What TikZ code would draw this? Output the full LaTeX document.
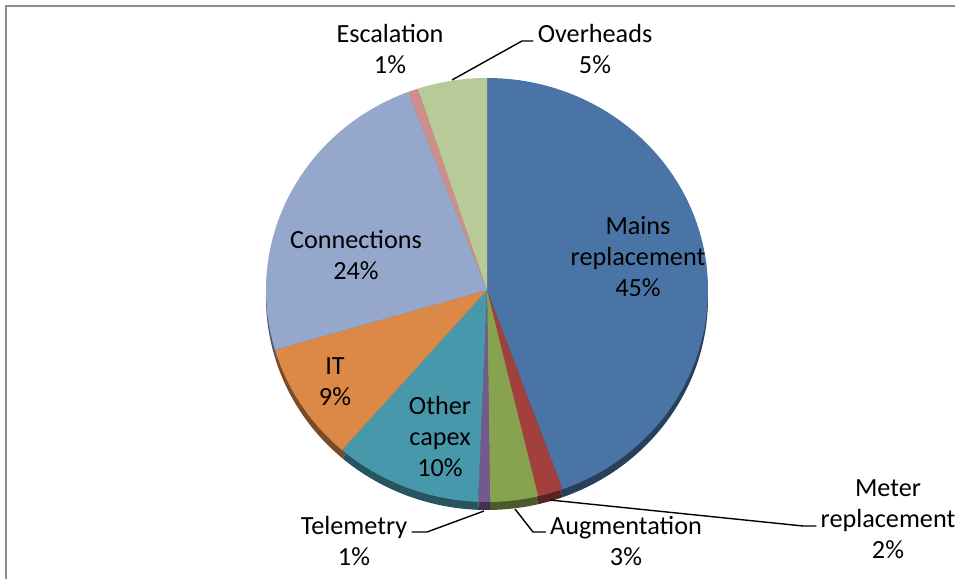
\documentclass[tikz,border=0pt]{standalone}
\usepackage{fontspec}
\setmainfont{Carlito}
\usetikzlibrary{positioning,calc}
\definecolor{mainscol}{RGB}{74,116,166}
\definecolor{metercol}{RGB}{162,64,62}
\definecolor{augcol}{RGB}{136,163,80}
\definecolor{telecol}{RGB}{116,90,140}
\definecolor{capexcol}{RGB}{72,152,172}
\definecolor{itcol}{RGB}{220,136,70}
\definecolor{conncol}{RGB}{149,168,204}
\definecolor{esccol}{RGB}{206,142,140}
\definecolor{overcol}{RGB}{185,202,153}
\definecolor{framecol}{RGB}{140,140,140}
\tikzset{
  lbl/.style={align=center, font=\fontsize{13.1}{15.5}\selectfont, inner xsep=2pt, inner ysep=0pt},
  leader/.style={line width=0.7pt, black},
  frameln/.style={line width=1.1pt, framecol},
}
% one slice: colour, start angle, end angle
\newcommand{\pietop}[3]{%
  \fill[#1] (pc) -- ++(#2:221 and 212)
    arc[start angle=#2, end angle=#3, x radius=221, y radius=212] -- cycle;
}
\newcommand{\piewall}[3]{%
  \fill[#1!55!black] ($(pc)+(0,-8)$) -- ++(#2:221 and 212)
    arc[start angle=#2, end angle=#3, x radius=221, y radius=212] -- cycle;
}

\begin{document}
\begin{tikzpicture}[x=0.5pt, y=0.5pt]
    \useasboundingbox (0,0) rectangle (955,579);
    \draw[frameln] (6,0) -- (6,573) -- (955,573);
    \coordinate (pc) at (487,289);
    % side wall first
    \foreach \col/\a/\b in {mainscol/90/-70, metercol/-70/-76.6, augcol/-76.6/-89.2,
        telecol/-89.2/-92.3, capexcol/-92.3/-131, itcol/-131/-163.6,
        conncol/-163.6/-249.1, esccol/-249.1/-251.8, overcol/-251.8/-270}
      {\piewall{\col}{\a}{\b}}
    % top faces
    \foreach \col/\a/\b in {mainscol/90/-70, metercol/-70/-76.6, augcol/-76.6/-89.2,
        telecol/-89.2/-92.3, capexcol/-92.3/-131, itcol/-131/-163.6,
        conncol/-163.6/-249.1, esccol/-249.1/-251.8, overcol/-251.8/-270}
      {\pietop{\col}{\a}{\b}}
    % labels inside
    \node[lbl] (lblMains) at (638,322) {Mains\\replacement\\45\%};
    \node[lbl] (lblConn) at (356,324) {Connections\\24\%};
    \node[lbl] (lblIT) at (335,197) {IT\\9\%};
    \node[lbl] (lblCapex) at (440,142) {Other\\capex\\10\%};
    % labels outside
    \node[lbl] (lblEsc) at (390,530) {Escalation\\1\%};
    \node[lbl] (lblOver) at (595,530) {Overheads\\5\%};
    \node[lbl] (lblTele) at (354,38) {Telemetry\\1\%};
    \node[lbl] (lblAug) at (626,38) {Augmentation\\3\%};
    \node[lbl] (lblMeter) at (888,60) {Meter\\replacement\\2\%};
    % leader lines
    \coordinate (pOver) at (452,499);
    \coordinate (kOver) at (522,538);
    \coordinate (pTele) at (484,68);
    \coordinate (kTele) at (427,47);
    \coordinate (pAug) at (515,70);
    \coordinate (kAug) at (533,47);
    \coordinate (pMeter) at (550,79);
    \coordinate (kMeter) at (803,53);
    \draw[leader] (pOver) -- (kOver) -- (lblOver.west |- kOver);
    \draw[leader] (pTele) -- (kTele) -- (lblTele.east |- kTele);
    \draw[leader] (pAug) -- (kAug) -- (lblAug.west |- kAug);
    \draw[leader] (pMeter) -- (kMeter) -- (lblMeter.west |- kMeter);
\end{tikzpicture}
\end{document}
